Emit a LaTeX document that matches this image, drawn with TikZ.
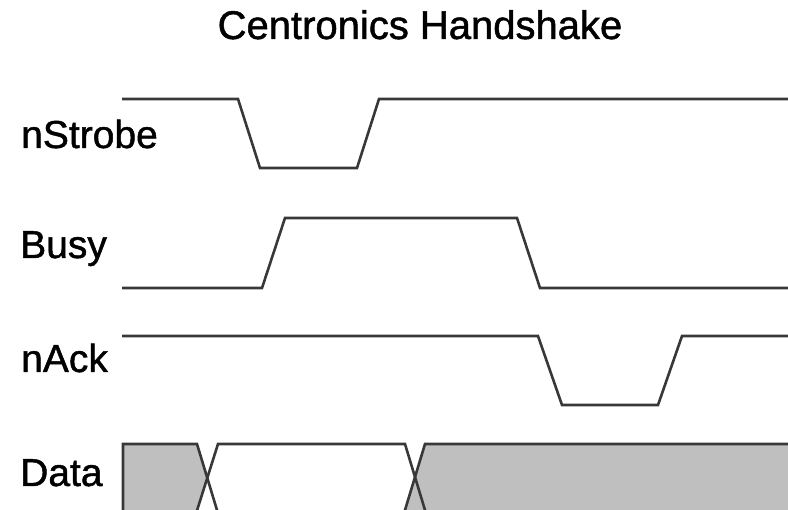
\documentclass[tikz,border=0pt]{standalone}
\usepackage{fontspec}
\setmainfont[FakeBold=1.2]{Liberation Sans}

\begin{document}
\begin{tikzpicture}[x=1pt,y=-1pt,
    sig/.style={draw=black!78,line width=2.6pt,line join=miter},
    lbl/.style={anchor=base west,inner sep=0pt,font=\fontsize{39}{42}\selectfont},
    bus/.style={fill=black!25}]
  \useasboundingbox (0,0) rectangle (788,510);
  \clip (0,0) rectangle (788,510);
  \node[anchor=base,inner sep=0pt,font=\fontsize{40}{44}\selectfont] (title) at (420,39) {Centronics Handshake};
  % signal names
  \node[lbl] (strobe) at (21,148) {nStrobe};
  \node[lbl] (busy) at (20,258) {Busy};
  \node[lbl] (ack) at (21,372) {nAck};
  \node[lbl] (data) at (20,486) {Data};
  % nStrobe
  \draw[sig] (122,99) -- (238,99) -- (260,168) -- (357,168) -- (379,99) -- (788,99);
  % Busy
  \draw[sig] (122,288) -- (262,288) -- (285,218) -- (517,218) -- (540,288) -- (788,288);
  % nAck
  \draw[sig] (122,336) -- (538,336) -- (562,405) -- (658,405) -- (682,336) -- (788,336);
  % Data
  \fill[bus] (123,444) -- (197,444) -- (207,475) -- (196,520) -- (123,520) -- cycle;
  \fill[bus] (425,444) -- (788,444) -- (788,520) -- (403,520) -- (415,475) -- cycle;
  \draw[sig] (123,520) -- (123,444) -- (197,444) -- (220,520);
  \draw[sig] (194,520) -- (218,444) -- (405,444) -- (428,520);
  \draw[sig] (402,520) -- (425,444) -- (788,444);
\end{tikzpicture}
\end{document}
